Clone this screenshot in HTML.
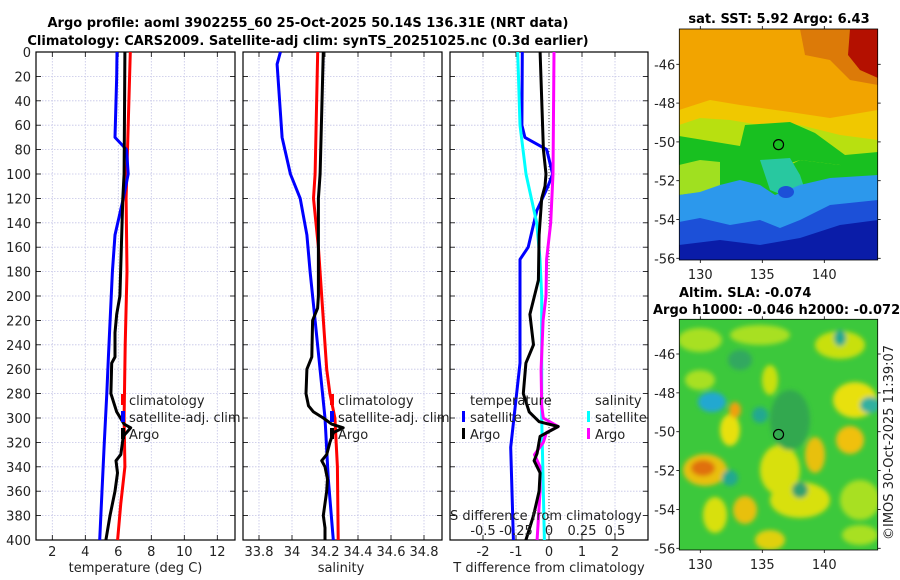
<!DOCTYPE html>
<html><head><meta charset="utf-8"><style>
body{margin:0;background:#fff;}
svg{display:block;font-family:"DejaVu Sans","Liberation Sans",sans-serif;}
</style></head><body>
<svg id="fig" width="900" height="580" viewBox="0 0 900 580">
<rect width="900" height="580" fill="#fff"/>
<text x="308" y="27" text-anchor="middle" font-size="13" font-weight="bold">Argo profile: aoml 3902255_60 25-Oct-2025 50.14S 136.31E (NRT data)</text>
<text x="308" y="45" text-anchor="middle" font-size="13" font-weight="bold">Climatology: CARS2009. Satellite-adj clim: synTS_20251025.nc (0.3d earlier)</text>
<g id="plots"></g>
</svg>
<script>
// ---- data ----
const depthTicks=[0,20,40,60,80,100,120,140,160,180,200,220,240,260,280,300,320,340,360,380,400];
const tempTicks=[2,4,6,8,10,12];
const salTicks=[33.8,34,34.2,34.4,34.6,34.8];
const tdiffTicks=[-2,-1,0,1,2];
const sdiffTickLabels=["-0.5","-0.25","0","0.25","0.5"];
const sdiffTicks=[-0.5,-0.25,0,0.25,0.5];

const climTDepth=[0,60,120,180,240,300,340,370,400];
const climT=[6.73,6.6,6.47,6.53,6.42,6.35,6.4,6.15,5.96];
const satTDepth=[0,20,70,80,100,120,150,180,250,280,320,400];
const satT=[5.92,5.9,5.8,6.5,6.6,6.3,5.8,5.64,5.4,5.3,5.15,4.87];
const argoTDepth=[0,100,120,200,215,230,250,255,280,295,305,308,315,330,335,345,360,380,400];
const argoT=[6.4,6.35,6.27,6.1,5.9,5.8,5.8,5.6,5.55,5.9,6.35,6.75,6.3,6.15,5.86,5.95,5.8,5.5,5.25];

const climSDepth=[0,100,120,160,200,260,280,300,340,400];
const climS=[34.156,34.14,34.13,34.16,34.18,34.21,34.23,34.26,34.275,34.28];
const satSDepth=[0,10,70,100,120,150,180,220,300,350,400];
const satS=[33.93,33.91,33.94,33.99,34.05,34.09,34.11,34.14,34.2,34.22,34.25];
const argoSDepth=[0,100,120,200,210,220,250,260,280,290,295,300,305,308,312,320,330,335,340,350,360,380,390,400];
const argoS=[34.19,34.17,34.16,34.16,34.155,34.125,34.12,34.09,34.085,34.1,34.13,34.19,34.24,34.31,34.25,34.23,34.21,34.18,34.2,34.215,34.21,34.19,34.2,34.2];

const satTdDepth=[0,60,70,80,100,110,130,160,170,255,324,400];
const satTd=[-0.81,-0.82,-0.73,-0.07,0.11,-0.03,-0.37,-0.63,-0.88,-0.88,-1.16,-1.08];
const argoTdDepth=[0,80,100,110,120,150,187,215,240,255,280,295,303,307,315,329,335,345,360,380,400];
const argoTd=[-0.27,-0.17,-0.09,-0.12,-0.22,-0.3,-0.32,-0.58,-0.47,-0.7,-0.78,-0.6,-0.3,0.28,-0.27,-0.36,-0.45,-0.27,-0.3,-0.47,-0.7];
const satSdDepth=[0,60,100,140,170,200,300,400];
const satSd=[-0.237,-0.22,-0.174,-0.093,-0.068,-0.055,-0.055,-0.035];
const argoSdDepth=[0,100,140,170,200,220,260,290,300,307,312,320,330,340,360,400];
const argoSd=[0.038,0.03,0.013,-0.018,-0.023,-0.045,-0.06,-0.055,-0.043,0.07,-0.02,-0.043,-0.11,-0.068,-0.068,-0.09];

const mapLonTicks=[130,135,140];
const mapLatTicks=[-46,-48,-50,-52,-54,-56];
const argoLon=136.31, argoLat=-50.14;

// ---- helpers ----
const NS="http://www.w3.org/2000/svg";
const root=document.getElementById('plots');
function mk(tag,attrs,parent){const e=document.createElementNS(NS,tag);for(const k in attrs)e.setAttribute(k,attrs[k]);(parent||root).appendChild(e);return e;}
const Y0=52,Y1=540;
const yD=d=>Y0+d*(Y1-Y0)/400;
const xT=t=>52.3+(t-2)*16.5;
const xS=s=>292+(s-34)*165;
const xTd=t=>549+t*33;
const xSd=s=>549+s*132;

function frame(x0,x1,xt,xf,name){
  const g=mk('g',{});
  
  
  xt.forEach(v=>{const x=xf(v);mk('line',{x1:x,x2:x,y1:Y0,y2:Y1,stroke:'#c4c4e6','stroke-width':0.8,'stroke-dasharray':'1.5,1.5'},g);
    mk('line',{x1:x,x2:x,y1:Y1,y2:Y1-5,stroke:'#000','stroke-width':0.8},g);mk('line',{x1:x,x2:x,y1:Y0,y2:Y0+5,stroke:'#000','stroke-width':0.8},g);});
  depthTicks.forEach(d=>{const y=yD(d);mk('line',{x1:x0,x2:x1,y1:y,y2:y,stroke:'#c4c4e6','stroke-width':0.8,'stroke-dasharray':'1.5,1.5'},g);
    mk('line',{x1:x0,x2:x0+5,y1:y,y2:y,stroke:'#000','stroke-width':0.8},g);mk('line',{x1:x1,x2:x1-5,y1:y,y2:y,stroke:'#000','stroke-width':0.8},g);});
  mk('rect',{x:x0,y:Y0,width:x1-x0,height:Y1-Y0,fill:'none',stroke:'#000','stroke-width':1.2},g);
  return g;
}
function line(xs,ds,xf,color,name){
  const p=xs.map((v,i)=>xf(v).toFixed(1)+','+yD(ds[i]).toFixed(1)).join(' ');
  const e=mk('polyline',{points:p,fill:'none',stroke:color,'stroke-width':3,'stroke-linejoin':'round'});
  
  
}
function txt(x,y,s,attrs,name){const e=mk('text',Object.assign({x:x,y:y,'font-size':13,fill:'#222'},attrs||{}));e.textContent=s;
  
  return e;}

// panel 1
frame(36,235,tempTicks,xT,'temperature-panel');
depthTicks.forEach(d=>txt(31,yD(d)+5,String(d),{'text-anchor':'end'},'y-tick-label'));
tempTicks.forEach(v=>txt(xT(v),556,String(v),{'text-anchor':'middle'},'x-tick-label'));
txt(135.5,572,'temperature (deg C)',{'text-anchor':'middle'},'x-axis-title-temperature');
line(climT,climTDepth,xT,'#ff0000','temperature-climatology-line');
line(satT,satTDepth,xT,'#0000ff','temperature-satellite-line');
line(argoT,argoTDepth,xT,'#000','temperature-argo-line');

// panel 2
frame(243,442,salTicks,xS,'salinity-panel');
salTicks.forEach(v=>txt(xS(v),556,String(v),{'text-anchor':'middle'},'x-tick-label'));
txt(341,572,'salinity',{'text-anchor':'middle'},'x-axis-title-salinity');
line(climS,climSDepth,xS,'#ff0000','salinity-climatology-line');
line(satS,satSDepth,xS,'#0000ff','salinity-satellite-line');
line(argoS,argoSDepth,xS,'#000','salinity-argo-line');

// legends panels 1&2
[[121,'legend-temperature'],[330,'legend-salinity']].forEach(([lx,nm])=>{
  [['#ff0000','climatology',405],['#0000ff','satellite-adj. clim',422],['#000','Argo',439]].forEach(([c,s,y])=>{
    const r=mk('rect',{x:lx,y:y-11,width:4,height:11,fill:c});
    
    
    txt(lx+8,y,s,{},nm+'-entry');
  });
});

// panel 3
frame(450,648,tdiffTicks,xTd,'difference-panel');
mk('line',{x1:549,x2:549,y1:Y0,y2:Y1,stroke:'#444','stroke-width':1,'stroke-dasharray':'1,2'});
tdiffTicks.forEach(v=>txt(xTd(v),556,String(v),{'text-anchor':'middle'},'x-tick-label'));
txt(549,572,'T difference from climatology',{'text-anchor':'middle'},'x-axis-title-tdiff');
line(satTd,satTdDepth,xTd,'#0000ff','tdiff-satellite-line');
line(satSd,satSdDepth,xSd,'#00ffff','sdiff-satellite-line');
line(argoSd,argoSdDepth,xSd,'#ff00ff','sdiff-argo-line');
line(argoTd,argoTdDepth,xTd,'#000','tdiff-argo-line');
txt(470,405,'temperature',{},'legend-temperature-title');
txt(595,405,'salinity',{},'legend-salinity-title');
[['#0000ff',462,'satellite',422],['#000',462,'Argo',439],['#00ffff',587,'satellite',422],['#ff00ff',587,'Argo',439]].forEach(([c,x,s,y])=>{
  const r=mk('rect',{x:x,y:y-11,width:3,height:11,fill:c});
  
  
  txt(x+8,y,s,{},'diff-legend-entry');
});
txt(450,520,'S difference from climatology',{},'sdiff-axis-title');
sdiffTicks.forEach((v,i)=>txt(xSd(v),535,sdiffTickLabels[i],{'text-anchor':'middle'},'sdiff-tick-label'));

// ---- maps ----
const MX0=679.3,MX1=877.7;
const xL=l=>700.3+(l-130)*12.4;
function mapFrame(y0,y1,yLat,name){
  const g=mk('g',{});
  
  
  mapLatTicks.forEach(la=>{const y=yLat(la);if(y>=y0-1&&y<=y1+1){
    mk('line',{x1:MX0,x2:MX0-3,y1:y,y2:y,stroke:'#000','stroke-width':0.8},g);mk('line',{x1:MX1,x2:MX1+3,y1:y,y2:y,stroke:'#000','stroke-width':0.8},g);
    txt(MX0-4,y+5,String(la),{'text-anchor':'end'},'map-lat-label');}});
  mapLonTicks.forEach(lo=>{const x=xL(lo);mk('line',{x1:x,x2:x,y1:y1,y2:y1+3,stroke:'#000','stroke-width':0.8},g);mk('line',{x1:x,x2:x,y1:y0,y2:y0-3,stroke:'#000','stroke-width':0.8},g);
    txt(x,y1+19,String(lo),{'text-anchor':'middle'},'map-lon-label');});
  mk('rect',{x:MX0,y:y0,width:MX1-MX0,height:y1-y0,fill:'none',stroke:'#000','stroke-width':0.8},g);
}
const defs=mk('defs',{});
const c1=mk('clipPath',{id:'c1'},defs);mk('rect',{x:MX0,y:29,width:MX1-MX0,height:231},c1);
const c2=mk('clipPath',{id:'c2'},defs);mk('rect',{x:MX0,y:319.3,width:MX1-MX0,height:230.7},c2);
const f=mk('filter',{id:'bl'},defs);mk('feGaussianBlur',{stdDeviation:2.5},f);
// map 1 (SST)
const m1=mk('g',{'clip-path':'url(#c1)'});


mk('rect',{x:MX0,y:29,width:200,height:231,fill:'#f2a400'},m1);
mk('polygon',{points:'800,29 878,29 878,85 850,80 830,60 805,55',fill:'#dc7a08'},m1);
mk('polygon',{points:'850,29 878,29 878,78 860,70 848,55',fill:'#b41000'},m1);
mk('polygon',{points:'679,110 710,100 740,105 790,112 830,118 878,110 878,160 679,160',fill:'#f0c800'},m1);
mk('polygon',{points:'679,125 700,118 730,120 760,125 800,125 840,135 878,140 878,175 679,175',fill:'#b8e010'},m1);
mk('polygon',{points:'679,136 740,146 745,125 790,122 815,133 845,155 878,152 878,170 860,172 840,165 800,160 679,200',fill:'#18c020'},m1);
mk('polygon',{points:'679,160 740,146 750,155 790,165 800,160 840,165 878,168 878,200 679,205',fill:'#18c020'},m1);
mk('polygon',{points:'679,165 700,160 720,162 720,190 679,195',fill:'#a0e020'},m1);
mk('polygon',{points:'760,160 790,158 800,175 805,190 790,198 770,190',fill:'#28c8a0'},m1);
mk('polygon',{points:'679,195 700,192 720,185 740,180 760,185 775,195 800,185 830,178 878,175 878,260 679,260',fill:'#2c98ec'},m1);
mk('polygon',{points:'679,222 700,218 730,225 760,220 780,228 800,220 830,205 878,200 878,260 679,260',fill:'#1c50d8'},m1);
mk('polygon',{points:'679,245 720,240 760,245 800,238 840,225 878,220 878,260 679,260',fill:'#0a1ca8'},m1);
mk('ellipse',{cx:786,cy:192,rx:8,ry:6,fill:'#1c50d8'},m1);
mapFrame(29,260,la=>64.3+(-46-la)*19.4,'sst-map');
const ci1=mk('circle',{cx:xL(argoLon),cy:64.3+(-46-argoLat)*19.4,r:5,fill:'none',stroke:'#000','stroke-width':1.2});


txt(779,23,'sat. SST: 5.92 Argo: 6.43',{'text-anchor':'middle','font-weight':'bold',fill:'#000'},'sst-map-title');

// map 2 (SLA)
const m2=mk('g',{'clip-path':'url(#c2)'});


mk('rect',{x:MX0,y:319,width:200,height:232,fill:'#3cc83c'},m2);
const bg=mk('g',{filter:'url(#bl)'},m2);
[[700,340,22,12,'#a8e020'],[760,335,30,10,'#a8e020'],[840,345,25,14,'#c8e010'],[855,400,22,18,'#e8e010'],[850,440,14,14,'#f0c010'],
 [730,430,10,16,'#e8e010'],[735,410,6,8,'#f0a010'],[705,470,22,16,'#e8c010'],[703,468,12,8,'#e07010'],
 [780,470,20,25,'#d8e010'],[800,500,30,18,'#d8e010'],[745,510,12,14,'#e8c010'],[815,455,10,18,'#e8c010'],
 [715,515,12,18,'#d8e010'],[770,380,8,15,'#c8e010'],[860,500,20,20,'#a8e020'],[770,540,15,10,'#e0d010'],
 [700,380,15,10,'#a8e020'],[860,535,18,10,'#a8e020']
].forEach(([cx,cy,rx,ry,c])=>mk('ellipse',{cx:cx,cy:cy,rx:rx,ry:ry,fill:c},bg));
[[712,402,14,10,'#20a8d0'],[760,415,8,8,'#20a890'],[730,478,8,8,'#20a890'],[800,490,8,8,'#30a070'],[840,338,6,8,'#20a890'],[870,405,10,8,'#30b0a0'],[790,420,20,30,'#30a850'],[740,360,12,10,'#30a860']
].forEach(([cx,cy,rx,ry,c])=>mk('ellipse',{cx:cx,cy:cy,rx:rx,ry:ry,fill:c},bg));
mapFrame(319.3,550,la=>354+(-46-la)*19.43,'sla-map');
const ci2=mk('circle',{cx:xL(argoLon),cy:354+(-46-argoLat)*19.43,r:5,fill:'none',stroke:'#000','stroke-width':1.2});


txt(679,297,'Altim. SLA: -0.074',{'font-weight':'bold',fill:'#000'},'sla-title');
txt(653,314,'Argo h1000: -0.046 h2000: -0.072',{'font-weight':'bold',fill:'#000'},'sla-argo-heights');
txt(0,0,'©IMOS 30-Oct-2025 11:39:07',{transform:'translate(893,540) rotate(-90)',fill:'#222'},'copyright-timestamp');
</script>
</body></html>
